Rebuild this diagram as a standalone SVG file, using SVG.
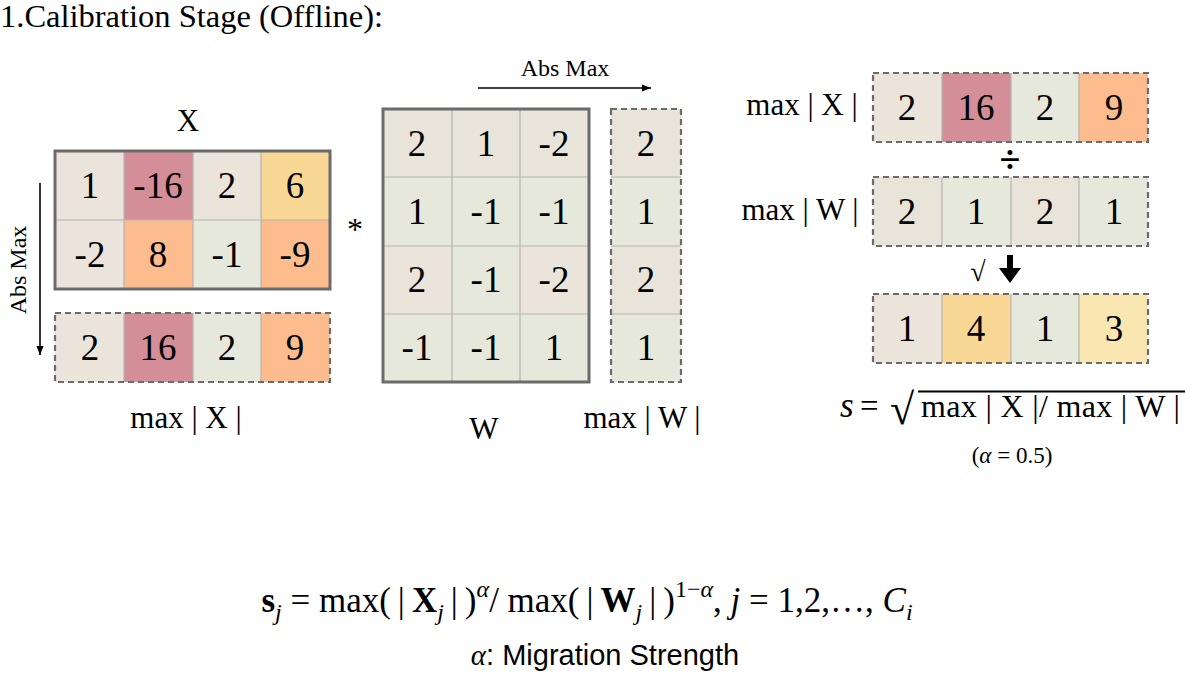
<svg xmlns="http://www.w3.org/2000/svg" width="1185" height="674" viewBox="0 0 1185 674">
<style>
text{font-family:"Liberation Serif","Times New Roman",serif;fill:#000}
.num{font-size:37px;text-anchor:middle}
.lbl{font-size:31px}
.grid{stroke:#b4b4b4;stroke-width:1.2;fill:none}
.solid{fill:none;stroke:#6b6b6b;stroke-width:3}
.dash{fill:none;stroke:#6b6b6b;stroke-width:2.2;stroke-dasharray:6 4}
.be{fill:#ebe4da}.pk{fill:#d38e98}.gr{fill:#e7e8dc}.ye{fill:#f9d794}.or{fill:#fdbc8d}.ly{fill:#f9e6b0}.bw{fill:#e8e4d9}
.arrow{stroke:#000;stroke-width:1.6;fill:none}
</style>
<defs>
<marker id="ah" viewBox="0 0 10 10" refX="10" refY="5" markerWidth="9" markerHeight="9" markerUnits="userSpaceOnUse" orient="auto">
<path d="M0,1 L10,5 L0,9 Z" fill="#000"/>
</marker>
</defs>

<text x="0" y="27" style="font-size:32.5px;font-family:'Liberation Serif','Times New Roman',serif">1.Calibration Stage (Offline):</text>

<g id="matrixX">
<text x="188" y="131" text-anchor="middle" style="font-size:31px">X</text>
<rect class="be" x="55" y="151" width="69" height="69"/>
<rect class="pk" x="124" y="151" width="69" height="69"/>
<rect class="be" x="193" y="151" width="68" height="69"/>
<rect class="ye" x="261" y="151" width="69" height="69"/>
<rect class="be" x="55" y="220" width="69" height="69"/>
<rect class="or" x="124" y="220" width="69" height="69"/>
<rect class="gr" x="193" y="220" width="68" height="69"/>
<rect class="or" x="261" y="220" width="69" height="69"/>
<path class="grid" d="M124,151V289M193,151V289M261,151V289M55,220H330"/>
<rect class="solid" x="55" y="151" width="275" height="138"/>
<text class="num" x="90" y="198">1</text>
<text class="num" x="158" y="198">-16</text>
<text class="num" x="227" y="198">2</text>
<text class="num" x="295" y="198">6</text>
<text class="num" x="90" y="267">-2</text>
<text class="num" x="158" y="267">8</text>
<text class="num" x="227" y="267">-1</text>
<text class="num" x="295" y="267">-9</text>
</g>

<g id="maxX">
<rect class="be" x="55" y="313" width="69" height="69"/>
<rect class="pk" x="124" y="313" width="69" height="69"/>
<rect class="gr" x="193" y="313" width="68" height="69"/>
<rect class="or" x="261" y="313" width="69" height="69"/>
<path class="grid" d="M124,313V382M193,313V382M261,313V382"/>
<rect class="dash" x="55" y="313" width="275" height="69"/>
<text class="num" x="90" y="360">2</text>
<text class="num" x="158" y="360">16</text>
<text class="num" x="227" y="360">2</text>
<text class="num" x="295" y="360">9</text>
<text x="186" y="428" text-anchor="middle" class="lbl">max | X |</text>
</g>

<text x="355" y="240" text-anchor="middle" style="font-size:32px">*</text>

<g id="matrixW">
<rect class="bw" x="383" y="109" width="206" height="68"/>
<rect class="gr" x="383" y="177" width="206" height="205"/>
<rect class="be" x="383" y="246" width="69" height="68"/>
<rect class="be" x="520" y="246" width="69" height="68"/>
<path class="grid" d="M452,109V382M520,109V382M383,177H589M383,246H589M383,314H589"/>
<rect class="solid" x="383" y="109" width="206" height="273"/>
<text class="num" x="417" y="156">2</text>
<text class="num" x="486" y="156">1</text>
<text class="num" x="554" y="156">-2</text>
<text class="num" x="417" y="224">1</text>
<text class="num" x="486" y="224">-1</text>
<text class="num" x="554" y="224">-1</text>
<text class="num" x="417" y="292">2</text>
<text class="num" x="486" y="292">-1</text>
<text class="num" x="554" y="292">-2</text>
<text class="num" x="417" y="360">-1</text>
<text class="num" x="486" y="360">-1</text>
<text class="num" x="554" y="360">1</text>
<text x="484" y="439" text-anchor="middle" class="lbl">W</text>
</g>

<g id="maxW">
<rect class="bw" x="611" y="109" width="70" height="68"/>
<rect class="gr" x="611" y="177" width="70" height="69"/>
<rect class="bw" x="611" y="246" width="70" height="68"/>
<rect class="gr" x="611" y="314" width="70" height="68"/>
<path class="grid" d="M611,177H681M611,246H681M611,314H681"/>
<rect class="dash" x="611" y="109" width="70" height="273"/>
<text class="num" x="646" y="156">2</text>
<text class="num" x="646" y="224">1</text>
<text class="num" x="646" y="292">2</text>
<text class="num" x="646" y="360">1</text>
<text x="642" y="428" text-anchor="middle" class="lbl">max | W |</text>
</g>

<g id="rowMaxX">
<text x="802" y="115" text-anchor="middle" class="lbl">max | X |</text>
<rect class="be" x="873" y="73" width="69" height="69"/>
<rect class="pk" x="942" y="73" width="69" height="69"/>
<rect class="gr" x="1011" y="73" width="68" height="69"/>
<rect class="or" x="1079" y="73" width="69" height="69"/>
<path class="grid" d="M942,73V142M1011,73V142M1079,73V142"/>
<rect class="dash" x="873" y="73" width="275" height="69"/>
<text class="num" x="907" y="120">2</text>
<text class="num" x="976" y="120">16</text>
<text class="num" x="1045" y="120">2</text>
<text class="num" x="1114" y="120">9</text>
</g>

<text x="1010" y="172" text-anchor="middle" style="font-size:38px;font-weight:bold">÷</text>

<g id="rowMaxW">
<text x="800" y="220" text-anchor="middle" class="lbl">max | W |</text>
<rect class="bw" x="873" y="177" width="69" height="69"/>
<rect class="gr" x="942" y="177" width="69" height="69"/>
<rect class="bw" x="1011" y="177" width="68" height="69"/>
<rect class="gr" x="1079" y="177" width="69" height="69"/>
<path class="grid" d="M942,177V246M1011,177V246M1079,177V246"/>
<rect class="dash" x="873" y="177" width="275" height="69"/>
<text class="num" x="907" y="224">2</text>
<text class="num" x="976" y="224">1</text>
<text class="num" x="1045" y="224">2</text>
<text class="num" x="1114" y="224">1</text>
</g>

<text x="978" y="281" text-anchor="middle" style="font-size:28px">√</text>

<g id="rowS">
<rect class="be" x="873" y="294" width="69" height="69"/>
<rect class="ye" x="942" y="294" width="69" height="69"/>
<rect class="gr" x="1011" y="294" width="68" height="69"/>
<rect class="ly" x="1079" y="294" width="69" height="69"/>
<path class="grid" d="M942,294V363M1011,294V363M1079,294V363"/>
<rect class="dash" x="873" y="294" width="275" height="69"/>
<text class="num" x="907" y="341">1</text>
<text class="num" x="976" y="341">4</text>
<text class="num" x="1045" y="341">1</text>
<text class="num" x="1114" y="341">3</text>
</g>

<g id="formulaS">
<text x="840" y="417" style="font-size:35px;font-style:italic">s</text>
<text x="860" y="417" style="font-size:33px">=</text>
<text x="890" y="424" style="font-size:44px">√</text>
<line x1="918" y1="391.5" x2="1185" y2="391.5" stroke="#000" stroke-width="1.8"/>
<text x="921" y="417" style="font-size:32px" textLength="259" lengthAdjust="spacing">max | X |/ max | W |</text>
<text x="1012" y="463" text-anchor="middle" style="font-size:23px">(<tspan font-style="italic">α</tspan> = 0.5)</text>
</g>

<g id="connectors">
<line class="arrow" x1="40" y1="183" x2="40" y2="355" marker-end="url(#ah)"/>
<text transform="translate(26,270) rotate(-90)" text-anchor="middle" style="font-size:24px">Abs Max</text>
<line class="arrow" x1="478" y1="88" x2="651" y2="88" marker-end="url(#ah)"/>
<text x="565" y="76" text-anchor="middle" style="font-size:24px">Abs Max</text>
<polygon points="1007,255 1013,255 1013,268 1021,268 1010,283 999,268 1007,268" fill="#000"/>
</g>

<g id="mainFormula">
<text x="587" y="612" text-anchor="middle" style="font-size:35px"><tspan font-weight="bold">s</tspan><tspan font-style="italic" font-size="24" dy="8">j</tspan><tspan dy="-8"> = max(&#8201;|&#8201;</tspan><tspan font-weight="bold">X</tspan><tspan font-style="italic" font-size="24" dy="8">j</tspan><tspan dy="-8">&#8201;|&#8201;)</tspan><tspan font-style="italic" font-size="24" dy="-15">α</tspan><tspan dy="15">/ max(&#8201;|&#8201;</tspan><tspan font-weight="bold">W</tspan><tspan font-style="italic" font-size="24" dy="8">j</tspan><tspan dy="-8">&#8201;|&#8201;)</tspan><tspan font-size="24" dy="-15">1−<tspan font-style="italic">α</tspan></tspan><tspan dy="15">, </tspan><tspan font-style="italic">j</tspan> = 1,2,…, <tspan font-style="italic">C</tspan><tspan font-style="italic" font-size="24" dy="8">i</tspan></text>
<text x="605" y="665" text-anchor="middle" style="font-size:29px;font-family:'Liberation Sans',Arial,sans-serif"><tspan font-style="italic" style="font-family:'Liberation Serif',serif">α</tspan>: Migration Strength</text>
</g>
</svg>
